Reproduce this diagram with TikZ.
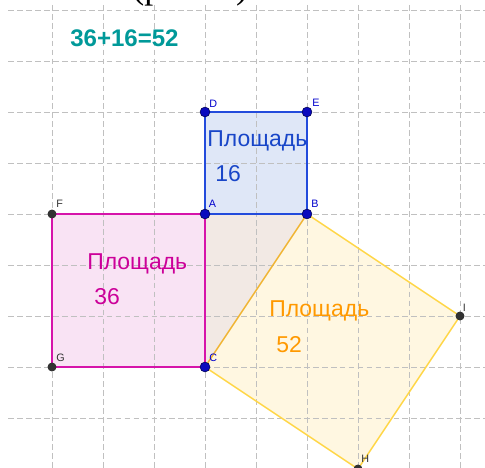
\documentclass[tikz,border=0pt]{standalone}
\usepackage{fontspec}
\setmainfont{Liberation Sans}
\newfontfamily\serifcyr{Liberation Serif}
\definecolor{gridgray}{RGB}{192,192,192}
\definecolor{bluefill}{RGB}{223,231,247}
\definecolor{blueline}{RGB}{35,75,220}
\definecolor{bluetext}{RGB}{25,70,200}
\definecolor{pinkfill}{RGB}{249,227,244}
\definecolor{magline}{RGB}{214,20,170}
\definecolor{magtext}{RGB}{204,0,153}
\definecolor{trifill}{RGB}{242,233,228}
\definecolor{yelfill}{RGB}{255,247,225}
\definecolor{yelline}{RGB}{255,214,70}
\definecolor{bcline}{RGB}{240,180,50}
\definecolor{orangetext}{RGB}{255,153,0}
\definecolor{tealtext}{RGB}{0,153,153}
\definecolor{bluedot}{RGB}{10,10,190}
\definecolor{graydot}{RGB}{50,50,50}
\definecolor{haloblue}{RGB}{150,160,235}
\tikzset{
  gridline/.style={draw=gridgray, line width=0.55pt, dash pattern=on 3.2pt off 1.8pt},
  edge/.style={line width=0.8pt, line join=round},
  bpt/.style={circle, fill=bluedot, draw=black!70!blue, line width=0.3pt, inner sep=0pt, minimum size=5.5pt},
  gpt/.style={circle, fill=graydot, inner sep=0pt, minimum size=5pt},
  lab/.style={anchor=base west, inner sep=0pt, font=\fontsize{6}{6}\selectfont},
  blab/.style={lab, text=blue!80!black},
  glab/.style={lab, text=graydot},
  area/.style={anchor=base west, inner sep=0pt, font=\fontsize{12.8}{14}\selectfont}
}
\begin{document}
\begin{tikzpicture}[x=1cm,y=1cm]
\useasboundingbox (-4.0196,4.1961) rectangle (5.4902,-4.9804);
\clip (-4.0196,4.1961) rectangle (5.4902,-4.9804);
% coordinates
\coordinate (A) at (0,0);
\coordinate (B) at (2,0);
\coordinate (C) at (0,-3);
\coordinate (D) at (0,2);
\coordinate (E) at (2,2);
\coordinate (F) at (-3,0);
\coordinate (G) at (-3,-3);
\coordinate (H) at (3,-5);
\coordinate (I) at (5,-2);
% fills
\fill[bluefill] (A) -- (D) -- (E) -- (B) -- cycle;
\fill[pinkfill] (F) -- (A) -- (C) -- (G) -- cycle;
\fill[trifill] (A) -- (B) -- (C) -- cycle;
\fill[yelfill] (C) -- (B) -- (I) -- (H) -- cycle;
% grid
\foreach \y in {4,3,...,-4} \draw[gridline] (-3.86,\y) -- (5.6,\y);
\foreach \x in {-3,...,5} \draw[gridline] (\x,4.1) -- (\x,-5.1);
% top cut text
\node[anchor=base west, inner sep=0pt, font=\serifcyr\fontsize{20}{20}\selectfont] (cut) at (-1.43,4.23) {(рис. 1)};
% edges
\draw[edge, draw=yelline] (B) -- (I) -- (H) -- (C);
\draw[edge, draw=bcline] (C) -- (B);
\draw[edge, draw=magline] (A) -- (F) -- (G) -- (C) -- (A);
\draw[edge, draw=blueline] (A) -- (D) -- (E) -- (B) -- (A);
% points
\fill[haloblue, opacity=0.6] (C) circle (0.1);
\node[bpt] (pA) at (A) {};
\node[bpt] (pB) at (B) {};
\node[bpt] (pC) at (C) {};
\node[bpt] (pD) at (D) {};
\node[bpt] (pE) at (E) {};
\node[gpt] (pF) at (F) {};
\node[gpt] (pG) at (G) {};
\node[gpt] (pH) at (H) {};
\node[gpt] (pI) at (I) {};
% point labels
\node[blab] (lA) at ([shift={(0.07,0.12)}]A) {A};
\node[blab] (lB) at ([shift={(0.08,0.12)}]B) {B};
\node[blab] (lC) at ([shift={(0.08,0.10)}]C) {C};
\node[blab] (lD) at ([shift={(0.08,0.08)}]D) {D};
\node[blab] (lE) at ([shift={(0.10,0.10)}]E) {E};
\node[glab] (lF) at ([shift={(0.08,0.12)}]F) {F};
\node[glab] (lG) at ([shift={(0.08,0.10)}]G) {G};
\node[glab] (lH) at ([shift={(0.06,0.12)}]H) {H};
\node[glab] (lI) at ([shift={(0.05,0.08)}]I) {I};
% area texts
\node[area, text=bluetext] (t1) at (0.04,1.314) {Площадь};
\node[area, text=bluetext] (t2) at (0.196,0.647) {16};
\node[area, text=magtext] (t3) at (-2.314,-1.098) {Площадь};
\node[area, text=magtext] (t4) at (-2.176,-1.784) {36};
\node[area, text=orangetext] (t5) at (1.255,-2.0) {Площадь};
\node[area, text=orangetext] (t6) at (1.392,-2.706) {52};
% title
\node[anchor=base west, inner sep=0pt, text=tealtext, font=\bfseries\fontsize{13.4}{15}\selectfont] (title) at (-2.647,3.294) {36+16=52};
\end{tikzpicture}
\end{document}
